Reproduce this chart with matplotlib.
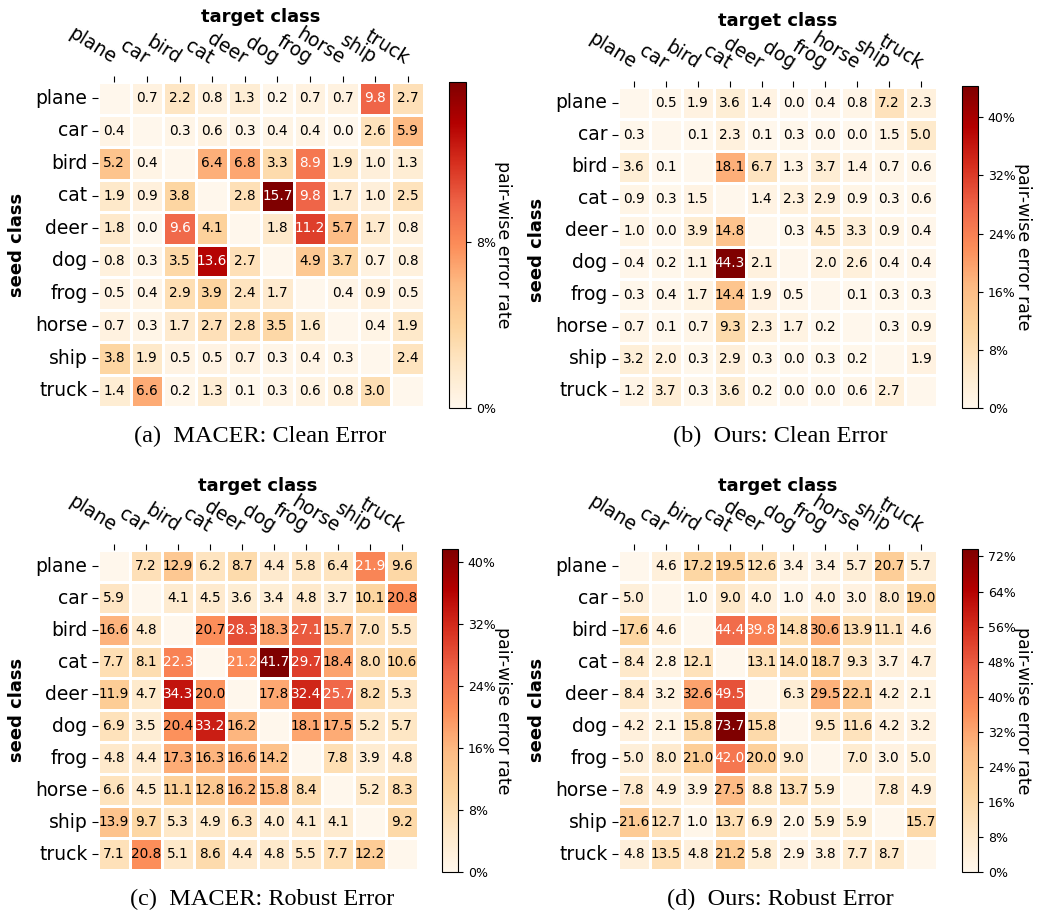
import numpy as np
import matplotlib
matplotlib.use("Agg")
import matplotlib.pyplot as plt
import seaborn as sns
from matplotlib.ticker import MultipleLocator, FuncFormatter

classes = ["plane", "car", "bird", "cat", "deer", "dog", "frog", "horse", "ship", "truck"]

macer_clean = [
    [0, 0.7, 2.2, 0.8, 1.3, 0.2, 0.7, 0.7, 9.8, 2.7],
    [0.4, 0, 0.3, 0.6, 0.3, 0.4, 0.4, 0.0, 2.6, 5.9],
    [5.2, 0.4, 0, 6.4, 6.8, 3.3, 8.9, 1.9, 1.0, 1.3],
    [1.9, 0.9, 3.8, 0, 2.8, 15.7, 9.8, 1.7, 1.0, 2.5],
    [1.8, 0.0, 9.6, 4.1, 0, 1.8, 11.2, 5.7, 1.7, 0.8],
    [0.8, 0.3, 3.5, 13.6, 2.7, 0, 4.9, 3.7, 0.7, 0.8],
    [0.5, 0.4, 2.9, 3.9, 2.4, 1.7, 0, 0.4, 0.9, 0.5],
    [0.7, 0.3, 1.7, 2.7, 2.8, 3.5, 1.6, 0, 0.4, 1.9],
    [3.8, 1.9, 0.5, 0.5, 0.7, 0.3, 0.4, 0.3, 0, 2.4],
    [1.4, 6.6, 0.2, 1.3, 0.1, 0.3, 0.6, 0.8, 3.0, 0],
]

ours_clean = [
    [0, 0.5, 1.9, 3.6, 1.4, 0.0, 0.4, 0.8, 7.2, 2.3],
    [0.3, 0, 0.1, 2.3, 0.1, 0.3, 0.0, 0.0, 1.5, 5.0],
    [3.6, 0.1, 0, 18.1, 6.7, 1.3, 3.7, 1.4, 0.7, 0.6],
    [0.9, 0.3, 1.5, 0, 1.4, 2.3, 2.9, 0.9, 0.3, 0.6],
    [1.0, 0.0, 3.9, 14.8, 0, 0.3, 4.5, 3.3, 0.9, 0.4],
    [0.4, 0.2, 1.1, 44.3, 2.1, 0, 2.0, 2.6, 0.4, 0.4],
    [0.3, 0.4, 1.7, 14.4, 1.9, 0.5, 0, 0.1, 0.3, 0.3],
    [0.7, 0.1, 0.7, 9.3, 2.3, 1.7, 0.2, 0, 0.3, 0.9],
    [3.2, 2.0, 0.3, 2.9, 0.3, 0.0, 0.3, 0.2, 0, 1.9],
    [1.2, 3.7, 0.3, 3.6, 0.2, 0.0, 0.0, 0.6, 2.7, 0],
]

macer_robust = [
    [0, 7.2, 12.9, 6.2, 8.7, 4.4, 5.8, 6.4, 21.9, 9.6],
    [5.9, 0, 4.1, 4.5, 3.6, 3.4, 4.8, 3.7, 10.1, 20.8],
    [16.6, 4.8, 0, 20.7, 28.3, 18.3, 27.1, 15.7, 7.0, 5.5],
    [7.7, 8.1, 22.3, 0, 21.2, 41.7, 29.7, 18.4, 8.0, 10.6],
    [11.9, 4.7, 34.3, 20.0, 0, 17.8, 32.4, 25.7, 8.2, 5.3],
    [6.9, 3.5, 20.4, 33.2, 16.2, 0, 18.1, 17.5, 5.2, 5.7],
    [4.8, 4.4, 17.3, 16.3, 16.6, 14.2, 0, 7.8, 3.9, 4.8],
    [6.6, 4.5, 11.1, 12.8, 16.2, 15.8, 8.4, 0, 5.2, 8.3],
    [13.9, 9.7, 5.3, 4.9, 6.3, 4.0, 4.1, 4.1, 0, 9.2],
    [7.1, 20.8, 5.1, 8.6, 4.4, 4.8, 5.5, 7.7, 12.2, 0],
]

ours_robust = [
    [0, 4.6, 17.2, 19.5, 12.6, 3.4, 3.4, 5.7, 20.7, 5.7],
    [5.0, 0, 1.0, 9.0, 4.0, 1.0, 4.0, 3.0, 8.0, 19.0],
    [17.6, 4.6, 0, 44.4, 39.8, 14.8, 30.6, 13.9, 11.1, 4.6],
    [8.4, 2.8, 12.1, 0, 13.1, 14.0, 18.7, 9.3, 3.7, 4.7],
    [8.4, 3.2, 32.6, 49.5, 0, 6.3, 29.5, 22.1, 4.2, 2.1],
    [4.2, 2.1, 15.8, 73.7, 15.8, 0, 9.5, 11.6, 4.2, 3.2],
    [5.0, 8.0, 21.0, 42.0, 20.0, 9.0, 0, 7.0, 3.0, 5.0],
    [7.8, 4.9, 3.9, 27.5, 8.8, 13.7, 5.9, 0, 7.8, 4.9],
    [21.6, 12.7, 1.0, 13.7, 6.9, 2.0, 5.9, 5.9, 0, 15.7],
    [4.8, 13.5, 4.8, 21.2, 5.8, 2.9, 3.8, 7.7, 8.7, 0],
]

captions = ["(a)  MACER: Clean Error", "(b)  Ours: Clean Error",
            "(c)  MACER: Robust Error", "(d)  Ours: Robust Error"]

W, H = 1040, 911
fig = plt.figure(figsize=(W / 100, H / 100), dpi=100)

def px_rect(x0, y0, x1, y1):
    return [x0 / W, 1 - y1 / H, (x1 - x0) / W, (y1 - y0) / H]

panels = [
    dict(data=macer_clean, ax=(98, 82, 424, 407), cb=(449, 82, 466, 408),
         title=(261, 17), ylab=(17, 245), cap=(260, 436)),
    dict(data=ours_clean, ax=(618, 87, 937, 407), cb=(962, 86, 978, 408),
         title=(778, 21), ylab=(537, 250), cap=(780, 436)),
    dict(data=macer_robust, ax=(98, 550, 418, 870), cb=(442, 549, 458, 872),
         title=(258, 486), ylab=(17, 710), cap=(262, 899)),
    dict(data=ours_robust, ax=(618, 550, 937, 870), cb=(962, 549, 978, 872),
         title=(778, 486), ylab=(537, 710), cap=(780, 899)),
]

for p, cap in zip(panels, captions):
    arr = np.array(p["data"], dtype=float)
    vmax = arr.max()
    ax = fig.add_axes(px_rect(*p["ax"]))
    cax = fig.add_axes(px_rect(*p["cb"]))
    sns.heatmap(arr, ax=ax, cbar_ax=cax, cmap="OrRd", vmin=0, vmax=vmax,
                annot=False, linewidths=2, linecolor="white",
                xticklabels=classes, yticklabels=classes)
    n = arr.shape[0]
    for i in range(n):
        for j in range(n):
            if i == j:
                continue
            v = arr[i, j]
            col = "white" if v / vmax > 0.503 else "black"
            ax.text(j + 0.5, i + 0.5, f"{v:.1f}", ha="center", va="center",
                    fontsize=9.8, color=col)
    ax.xaxis.tick_top()
    ax.tick_params(axis="both", labelsize=13.5, length=4, width=0.8)
    ax.tick_params(axis="x", pad=12)
    plt.setp(ax.get_xticklabels(), rotation=-32, ha="right", va="center",
             rotation_mode="anchor")
    plt.setp(ax.get_yticklabels(), rotation=0)
    ax.set_xlabel("")
    ax.set_ylabel("")
    cb = ax.collections[0].colorbar
    cb.locator = MultipleLocator(8)
    cb.formatter = FuncFormatter(lambda v, pos: f"{v:.0f}%")
    cb.update_ticks()
    cb.ax.tick_params(labelsize=9, length=3.5, width=0.8)
    cb.outline.set_visible(True)
    cb.outline.set_edgecolor("black")
    cb.outline.set_linewidth(0.8)
    cb.set_label("pair-wise error rate", rotation=270, fontsize=12.5, labelpad=12)
    tx, ty = p["title"]
    fig.text(tx / W, 1 - ty / H, "target class", fontsize=13, fontweight="bold",
             ha="center", va="center")
    lx, ly = p["ylab"]
    fig.text(lx / W, 1 - ly / H, "seed class", fontsize=13, fontweight="bold",
             ha="center", va="center", rotation=90)
    cx, cy = p["cap"]
    fig.text(cx / W, 1 - cy / H, cap, fontsize=17.5, family="Liberation Serif",
             ha="center", va="center")

fig.savefig("out.png", dpi=100)
